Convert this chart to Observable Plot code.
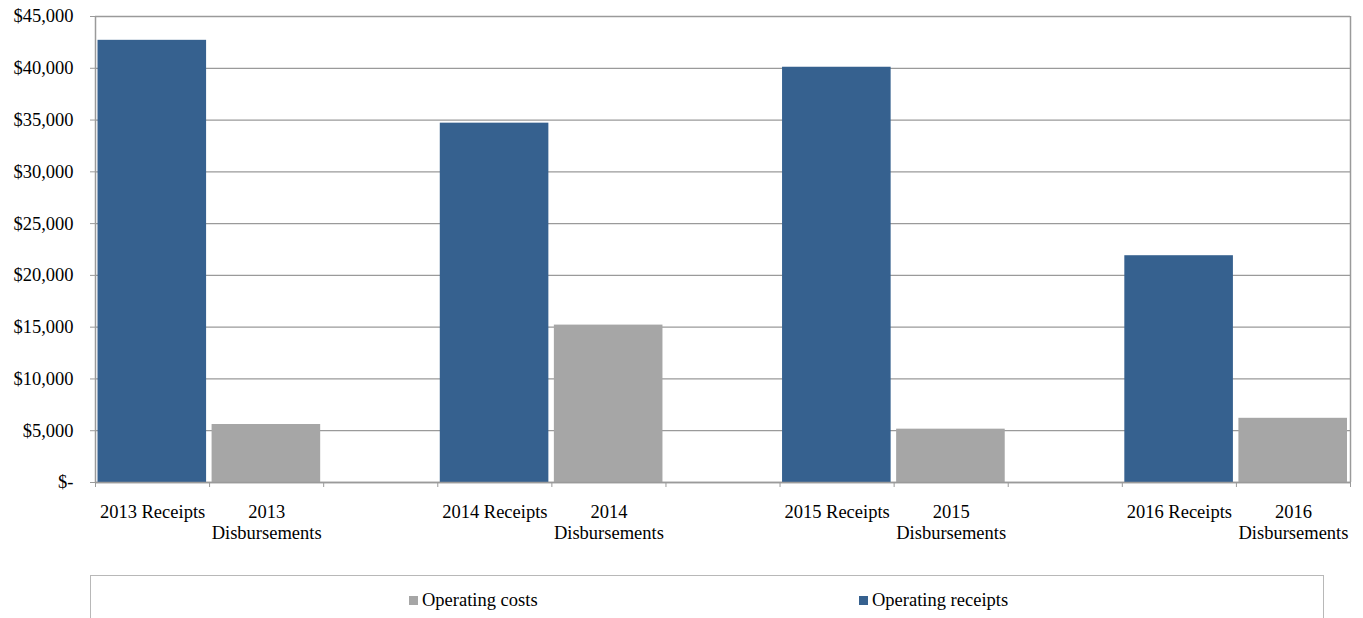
<!DOCTYPE html>
<html>
<head>
<meta charset="utf-8">
<script src="https://cdn.jsdelivr.net/npm/d3@7"></script>
<script src="https://cdn.jsdelivr.net/npm/@observablehq/plot@0.6"></script>
<style>
  html, body { margin: 0; padding: 0; background: #fff; overflow: hidden; }
  body { width: 1363px; height: 618px; position: relative; font-family: "Liberation Serif", "Times New Roman", serif; }
  #chart svg { display: block; }
  #legend {
    position: absolute; left: 90px; top: 575px; width: 1234px; height: 80px;
    border: 1.5px solid #b8b8b8; box-sizing: border-box;
  }
  .item { position: absolute; top: 14px; font-size: 18.5px; color: #000; white-space: nowrap; line-height: 20px; }
  .sw { display: inline-block; width: 9px; height: 9px; margin-right: 4px; vertical-align: 1px; }
</style>
</head>
<body>
<div id="chart"></div>
<div id="legend"></div>
<script>
const years = [2013, 2014, 2015, 2016];
const receipts = [42700, 34700, 40100, 21900];
const disbursements = [5600, 15200, 5150, 6200];
const seriesNames = ["Operating costs", "Operating receipts"];
const seriesColors = ["#A6A6A6", "#36618F"];
const yTicks = [0, 5000, 10000, 15000, 20000, 25000, 30000, 35000, 40000, 45000];
const slotsPerYear = 3;
const slotCount = years.length * slotsPerYear - 1;

const rows = [];
years.forEach((y, i) => {
  rows.push({slot: i * slotsPerYear, label: `${y} Receipts`, value: receipts[i], series: "Operating receipts"});
  rows.push({slot: i * slotsPerYear + 1, label: `${y}\nDisbursements`, value: disbursements[i], series: "Operating costs"});
});
const labelBySlot = new Map(rows.map(r => [r.slot + 0.5, r.label]));
const boundaries = d3.range(0, slotCount + 1);

const fmt = d => d === 0 ? "$-" : "$" + d3.format(",")(d);
const gray = "#9a9a9a";

const chart = Plot.plot({
  width: 1363,
  height: 570,
  marginLeft: 95,
  marginRight: 13,
  marginTop: 16,
  marginBottom: 88,
  style: {fontFamily: "'Liberation Serif', 'Times New Roman', serif", fontSize: "18.5px", color: "#000", background: "#fff"},
  x: {type: "linear", domain: [0, slotCount]},
  y: {domain: [0, 45000]},
  color: {domain: seriesNames, range: seriesColors},
  marks: [
    Plot.gridY(yTicks, {stroke: gray, strokeOpacity: 1, strokeWidth: 1.3}),
    Plot.rectY(rows, {x1: "slot", x2: d => d.slot + 1, y: "value", fill: "series", insetLeft: 2.5, insetRight: 3}),
    Plot.ruleX([0, slotCount], {stroke: gray, strokeWidth: 1.5}),
    Plot.ruleY([0], {stroke: gray, strokeWidth: 1.5}),
    Plot.axisY({ticks: yTicks, tickFormat: fmt, tickSize: 5, tickPadding: 17, stroke: gray, fill: "#000", fontSize: "18.5px", label: null}),
    Plot.axisX({ticks: boundaries, text: null, tickSize: 5, stroke: gray, label: null}),
    Plot.axisX({ticks: [...labelBySlot.keys()], tickFormat: d => labelBySlot.get(d), tickSize: 0, tickPadding: 20, lineHeight: 1.15, fill: "#000", fontSize: "18.5px", label: null})
  ]
});
document.getElementById("chart").appendChild(chart);

const legend = document.getElementById("legend");
const legendX = [318, 768];
seriesNames.forEach((name, i) => {
  const el = document.createElement("div");
  el.className = "item";
  el.style.left = legendX[i] + "px";
  el.innerHTML = `<span class="sw" style="background:${seriesColors[i]}"></span>${name}`;
  legend.appendChild(el);
});
</script>
</body>
</html>
